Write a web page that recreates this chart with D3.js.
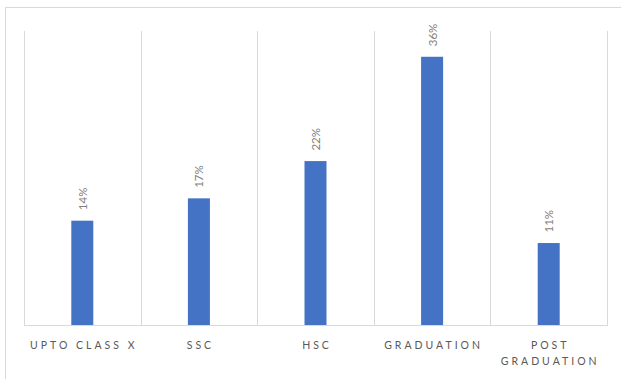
<!DOCTYPE html>
<html>
<head>
<meta charset="utf-8">
<script src="https://cdn.jsdelivr.net/npm/d3@7"></script>
<style>
  html, body { margin: 0; padding: 0; background: #fff; }
  svg { display: block; }
  text { font-family: Lato, "Open Sans", sans-serif; }
</style>
</head>
<body>
<svg id="chart" width="621" height="379"></svg>
<script>
// Share of respondents by education level
const categories = ["UPTO CLASS X", "SSC", "HSC", "GRADUATION", "POST GRADUATION"];
const shares = [14, 17, 22, 36, 11];
const valueLabels = ["14%", "17%", "22%", "36%", "11%"];

const plot = { left: 24, right: 607, top: 31, bottom: 325 };

const svg = d3.select("#chart");

// chart-area frame (runs off the right and bottom edges)
svg.append("rect")
  .attr("x", 5.5).attr("y", 7.5)
  .attr("width", 640).attr("height", 400)
  .attr("fill", "none").attr("stroke", "#d9d9d9");

const x = d3.scaleBand()
  .domain(categories)
  .range([plot.left, plot.right])
  .paddingInner(0).paddingOuter(0);

const y = d3.scaleLinear()
  .domain([0, 39.46])
  .range([plot.bottom, plot.top]);

// vertical category gridlines
const edges = categories.map(c => x(c)).concat([plot.right]);
svg.append("g").selectAll("line")
  .data(edges)
  .join("line")
  .attr("x1", d => Math.round(d) + 0.5).attr("x2", d => Math.round(d) + 0.5)
  .attr("y1", plot.top).attr("y2", plot.bottom)
  .attr("stroke", "#d9d9d9");

// baseline
svg.append("line")
  .attr("x1", plot.left).attr("x2", plot.right + 1)
  .attr("y1", plot.bottom + 0.5).attr("y2", plot.bottom + 0.5)
  .attr("stroke", "#d9d9d9");

const barW = 22;

svg.append("g").selectAll("rect")
  .data(categories)
  .join("rect")
  .attr("x", (c) => x(c) + x.bandwidth() / 2 - barW / 2)
  .attr("y", (c, i) => y(shares[i]))
  .attr("width", barW)
  .attr("height", (c, i) => y(0) - y(shares[i]))
  .attr("fill", "#4472c4");

// rotated value labels above each bar
svg.append("g").selectAll("text")
  .data(categories)
  .join("text")
  .attr("transform", (c, i) => {
    const cx = x(c) + x.bandwidth() / 2 + 4.5;
    const cy = y(shares[i]) - 10.5;
    return `translate(${cx},${cy}) rotate(-90)`;
  })
  .attr("text-anchor", "start")
  .attr("font-size", 11.5)
  .attr("fill", "#7f7f7f")
  .text((c, i) => valueLabels[i]);

// category labels, wrapped where they don't fit
const axisLabels = svg.append("g").selectAll("text")
  .data(categories)
  .join("text")
  .attr("x", c => x(c) + x.bandwidth() / 2)
  .attr("y", 349)
  .attr("text-anchor", "middle")
  .attr("font-size", 10.5)
  .attr("letter-spacing", "3px")
  .attr("fill", "#595959");

axisLabels.each(function (c) {
  const t = d3.select(this);
  const lines = c === "POST GRADUATION" ? ["POST", "GRADUATION"] : [c];
  lines.forEach((ln, k) => {
    t.append("tspan")
      .attr("x", x(c) + x.bandwidth() / 2 + 1.5)
      .attr("dy", k === 0 ? 0 : 16)
      .text(ln);
  });
});
</script>
</body>
</html>
